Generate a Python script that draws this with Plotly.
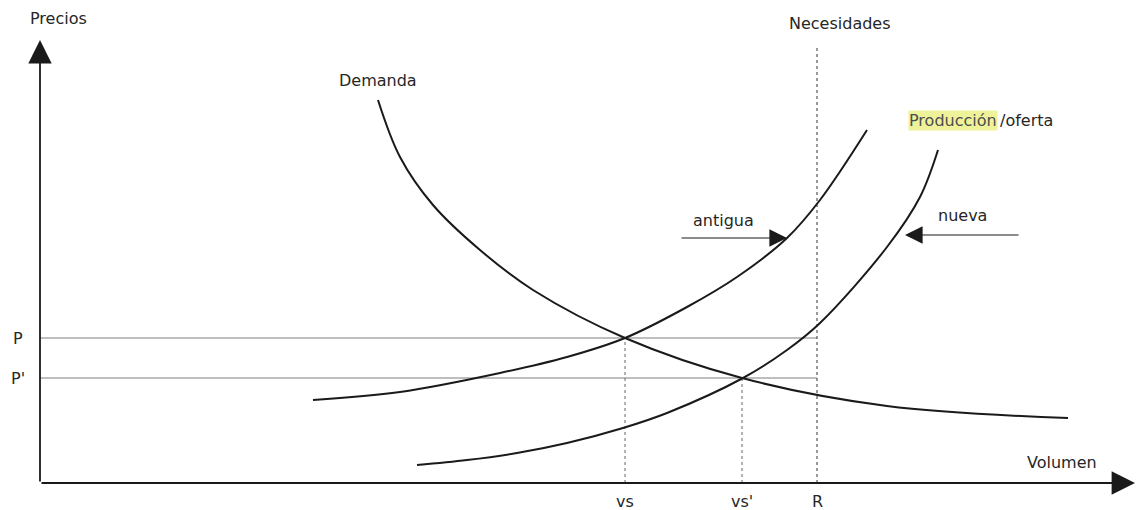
import plotly.graph_objects as go

# ---- data (volume units on x, price units on y) ----
demand_x = [33.8, 36.0, 39.3, 44.0, 49.3, 58.5, 70.2, 84.7, 102.8]
demand_y = [38.3, 32.6, 27.8, 23.3, 19.3, 14.5, 10.5, 7.7, 6.5]

old_supply_x = [27.3, 36.0, 46.0, 52.7, 58.5, 64.7, 69.7, 74.7, 78.0, 82.7]
old_supply_y = [8.3, 9.1, 11.0, 12.6, 14.5, 17.6, 20.6, 24.5, 28.3, 35.3]

new_supply_x = [37.7, 42.7, 47.7, 52.7, 58.3, 62.7, 70.3, 74.7, 78.0, 84.7, 88.0, 89.8]
new_supply_y = [1.8, 2.3, 3.0, 4.0, 5.5, 7.0, 10.5, 13.3, 16.0, 23.6, 28.6, 33.3]

price_P = 14.5
price_P2 = 10.5
vol_vs = 58.5
vol_vs2 = 70.2
vol_R = 77.7
needs_top = 43.8

x_axis_end = 109.5
y_axis_end = 44.3

price_labels = ["P", "P'"]
volume_labels = ["vs", "vs'", "R"]

FONT = "DejaVu Sans"
TXT = "#262626"

fig = go.Figure()

# guide lines
for p in [price_P, price_P2]:
    fig.add_trace(go.Scatter(x=[0, vol_R], y=[p, p], mode="lines",
                             line=dict(color="#a8a8a8", width=1.5), hoverinfo="skip"))
for v, top in [(vol_vs, price_P), (vol_vs2, price_P2)]:
    fig.add_trace(go.Scatter(x=[v, v], y=[0, top], mode="lines",
                             line=dict(color="#666", width=1, dash="dot"), hoverinfo="skip"))
fig.add_trace(go.Scatter(x=[vol_R, vol_R], y=[0, needs_top], mode="lines",
                         line=dict(color="#555", width=1.2, dash="dot"), hoverinfo="skip"))

# curves
for xs, ys in [(demand_x, demand_y), (old_supply_x, old_supply_y), (new_supply_x, new_supply_y)]:
    fig.add_trace(go.Scatter(x=xs, y=ys, mode="lines",
                             line=dict(color="#1a1a1a", width=2, shape="spline", smoothing=1.0),
                             hoverinfo="skip"))

# axes with arrows
for (tx, ty) in [(0, y_axis_end), (x_axis_end, 0)]:
    fig.add_annotation(x=tx, y=ty, ax=0, ay=0, xref="x", yref="y", axref="x", ayref="y",
                       text="", showarrow=True, arrowhead=2, arrowsize=2.6, arrowwidth=1.8,
                       arrowcolor="#1a1a1a")

# antigua / nueva arrows
fig.add_annotation(x=74.7, y=24.5, ax=64.0, ay=24.5, xref="x", yref="y", axref="x", ayref="y",
                   text="", showarrow=True, arrowhead=2, arrowsize=3.2, arrowwidth=1.1,
                   arrowcolor="#1a1a1a")
fig.add_annotation(x=86.5, y=24.8, ax=98.0, ay=24.8, xref="x", yref="y", axref="x", ayref="y",
                   text="", showarrow=True, arrowhead=2, arrowsize=3.2, arrowwidth=1.1,
                   arrowcolor="#1a1a1a")

def label(text, x, y, xanchor="center", size=16, **kw):
    fig.add_annotation(x=x, y=y, xref="x", yref="y", text=text, showarrow=False,
                       xanchor=xanchor, yanchor="middle",
                       font=dict(family=FONT, size=size, color=kw.pop("color", TXT)), **kw)

label("Precios", 1.8, 46.5)
label("Demanda", 33.8, 40.3)
label("Necesidades", 80.0, 46.0)
label("Producción", 95.8, 36.3, xanchor="right", bgcolor="#eef39a", borderpad=0, color="#4d4d4d")
label("/oferta", 95.8, 36.3, xanchor="left")
label("antigua", 68.3, 26.3)
label("nueva", 92.2, 26.8)
label("Volumen", 102.2, 2.1)
for t, yv in zip(price_labels, [price_P, price_P2]):
    label(t, -2.2, yv)
for t, xv in zip(volume_labels, [vol_vs, vol_vs2, vol_R]):
    label(t, xv, -1.8)

fig.update_layout(
    width=1143, height=510,
    margin=dict(l=0, r=0, t=0, b=0),
    paper_bgcolor="white", plot_bgcolor="white",
    showlegend=False,
    xaxis=dict(range=[-4, 110.3], visible=False, fixedrange=True),
    yaxis=dict(range=[-2.7, 48.3], visible=False, fixedrange=True),
)

fig.write_html("out.html", config={"displayModeBar": False},
               post_script="document.body.style.margin='0px';")
